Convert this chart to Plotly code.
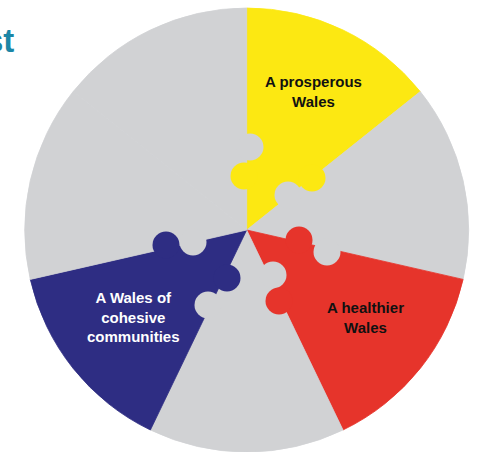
import math
import plotly.graph_objects as go

# ---- data ----
segment_ids = ["goal1", "goal2", "goal3", "goal4", "goal5", "goal6", "goal7"]
segment_values = [1, 1, 1, 1, 1, 1, 1]
segment_text = ["A prosperous<br>Wales", "", "A healthier<br>Wales", "",
                "A Wales of<br>cohesive<br>communities", "", ""]
segment_colors = ["#FCE812", "#D1D2D4", "#E6342B", "#D1D2D4",
                  "#2E2D83", "#D1D2D4", "#D1D2D4"]
text_colors = ["#111111", "#111111", "#111111", "#111111",
               "#FFFFFF", "#111111", "#111111"]
title_fragment = "st"

W, H = 480, 452
CX, CY, R = 246.7, 230.0, 222.0   # pixel centre / radius of the pie

fig = go.Figure()
fig.add_trace(go.Pie(
    labels=segment_ids,
    values=segment_values,
    sort=False,
    direction="clockwise",
    rotation=0,
    marker=dict(colors=segment_colors,
                line=dict(width=0.8, color=segment_colors)),
    textinfo="none",
    hoverinfo="skip",
    showlegend=False,
    domain=dict(x=[(CX - R) / W, (CX + R) / W], y=[0, (2 * R) / H]),
))

def px(x):
    return x / W

def py(y):
    return 1 - y / H

# puzzle knobs (decorative): grey blanks and coloured tabs
knob_r = 13.5
blanks = [(250, 147), (288, 195), (327, 252), (273, 275), (208, 305), (193, 242)]
tabs = [((244, 176), 0), ((312, 178), 0), ((299, 240), 2), ((279, 301), 2),
        ((227, 278), 4), ((166, 245), 4)]
shapes = []
for (x, y) in blanks:
    shapes.append(dict(type="circle", xref="paper", yref="paper",
                       x0=px(x - knob_r), x1=px(x + knob_r),
                       y0=py(y + knob_r), y1=py(y - knob_r),
                       fillcolor="#D1D2D4", line=dict(width=0)))
for (x, y), i in tabs:
    shapes.append(dict(type="circle", xref="paper", yref="paper",
                       x0=px(x - knob_r), x1=px(x + knob_r),
                       y0=py(y + knob_r), y1=py(y - knob_r),
                       fillcolor=segment_colors[i], line=dict(width=0)))

annotations = []
n = len(segment_values)
label_r = 148
label_dx, label_dy = 3, -5
for i, t in enumerate(segment_text):
    if not t:
        continue
    mid = math.radians((i + 0.5) * 360 / n)
    x = CX + label_r * math.sin(mid) + label_dx
    y = CY - label_r * math.cos(mid) + label_dy
    annotations.append(dict(x=px(x), y=py(y), xref="paper", yref="paper",
                            text="<b>" + t + "</b>", showarrow=False,
                            font=dict(family="Liberation Sans, Arial", size=15,
                                      color=text_colors[i]),
                            xanchor="center", yanchor="middle", align="center"))

annotations.append(dict(x=px(16), y=py(40), xref="paper", yref="paper",
                        text="<b>" + title_fragment + "</b>", showarrow=False,
                        font=dict(family="Liberation Sans, Arial", size=33,
                                  color="#1C86A6"),
                        xanchor="right", yanchor="middle"))

fig.update_layout(
    width=W, height=H,
    margin=dict(l=0, r=0, t=0, b=0),
    paper_bgcolor="white", plot_bgcolor="white",
    shapes=shapes, annotations=annotations,
)

fig.write_html("out.html")
